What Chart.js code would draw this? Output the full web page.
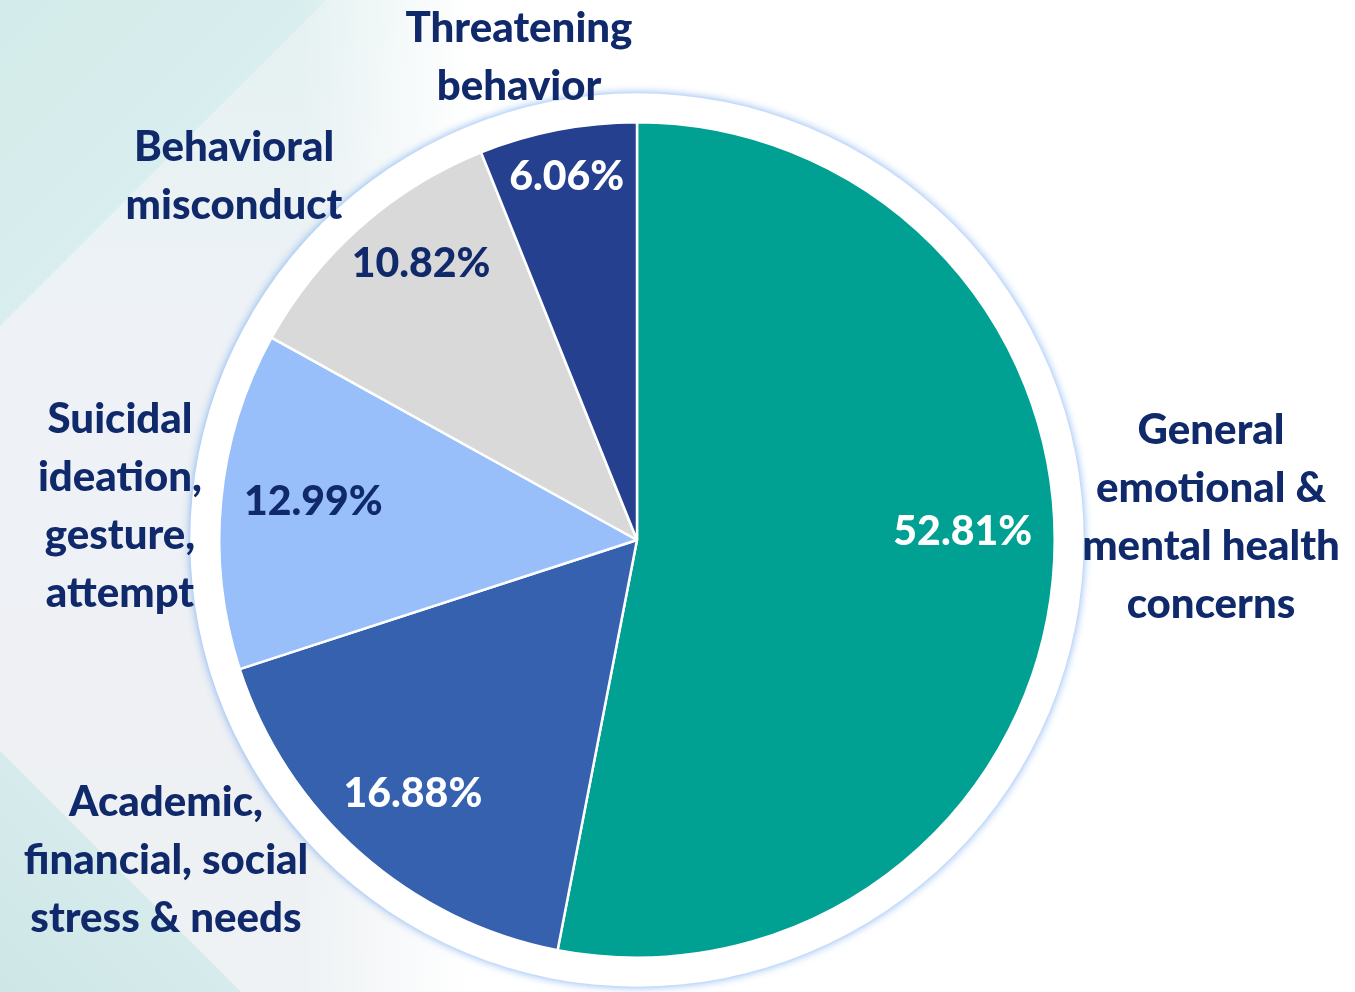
<!DOCTYPE html>
<html lang="en">
<head>
    <meta charset="UTF-8">
    <title>Concern Categories</title>
    <style>
        html, body {
            margin: 0;
            padding: 0;
            width: 1355px;
            height: 992px;
            overflow: hidden;
            font-family: 'Lato', sans-serif;
        }
        .page {
            position: relative;
            width: 1355px;
            height: 992px;
            background: #fff;
        }
        .bg {
            position: absolute;
            left: 0;
            top: 0;
            width: 470px;
            height: 992px;
            background:
                linear-gradient(to right, rgba(255,255,255,0) 0, rgba(255,255,255,0) 300px, #fff 470px),
                linear-gradient(135deg, #d3ebea 0, #d9eeee 230px, rgba(255,255,255,0.0) 231px),
                linear-gradient(45deg, #cfe6e6 0, #d6ecec 170px, rgba(255,255,255,0) 171px),
                linear-gradient(to bottom, #e4f1f1 0, #eef2f6 330px, #eef0f4 700px, #eef2f4 992px);
        }
        canvas {
            position: absolute;
            left: 0;
            top: 0;
        }
    </style>
</head>
<body>
    <div class="page">
        <div class="bg"></div>
        <canvas id="pieChart" width="1355" height="992"></canvas>
    </div>
<script src="https://cdn.jsdelivr.net/npm/chart.js"></script>
<script>
    // chart data
    const categories = [
        ['General', 'emotional &', 'mental health', 'concerns'],
        ['Academic,', 'financial, social', 'stress & needs'],
        ['Suicidal', 'ideation,', 'gesture,', 'attempt'],
        ['Behavioral', 'misconduct'],
        ['Threatening', 'behavior']
    ];
    const shares = [52.81, 16.88, 12.99, 10.82, 6.06];
    const sliceColors = ['#00a093', '#3561ae', '#99bffb', '#d9d9d9', '#25408f'];
    const valueColors = ['#ffffff', '#ffffff', '#10296b', '#10296b', '#ffffff'];

    const navy = '#10296b';

    // where the category names sit, relative to pie centre
    const nameAnchors = [
        [574, -110], [-471, 262], [-517, -121], [-403, -393], [-118, -512]
    ];
    // how far out the percentage sits (fraction of radius) and a small angle nudge (deg)
    const valueRadius = [0.78, 0.81, 0.78, 0.84, 0.885];
    const valueNudge = [-7, 0, 1.2, 3.5, 0];

    // white ring with soft blue edge behind the pie
    const ringPlugin = {
        id: 'ring',
        beforeDatasetsDraw(chart) {
            const arc = chart.getDatasetMeta(0).data[0];
            if (!arc) return;
            const ctx = chart.ctx;
            ctx.save();
            ctx.beginPath();
            ctx.arc(arc.x, arc.y, arc.outerRadius + 29, 0, Math.PI * 2);
            ctx.shadowColor = 'rgba(100, 160, 240, 0.85)';
            ctx.shadowBlur = 8;
            ctx.fillStyle = '#ffffff';
            ctx.fill();
            ctx.restore();
        }
    };

    const labelPlugin = {
        id: 'labels',
        afterDatasetsDraw(chart) {
            const meta = chart.getDatasetMeta(0);
            const ctx = chart.ctx;
            ctx.save();
            ctx.textAlign = 'center';
            ctx.textBaseline = 'middle';
            meta.data.forEach(function (arc, i) {
                // percentage inside the slice
                const mid = (arc.startAngle + arc.endAngle) / 2 + valueNudge[i] * Math.PI / 180;
                const r = arc.outerRadius * valueRadius[i];
                ctx.font = '900 41px Lato';
                ctx.fillStyle = valueColors[i];
                ctx.fillText(shares[i].toFixed(2) + '%', arc.x + Math.cos(mid) * r, arc.y + Math.sin(mid) * r);

                // category name outside
                const lines = categories[i];
                const lh = 58;
                const cx = arc.x + nameAnchors[i][0];
                const top = arc.y + nameAnchors[i][1];
                ctx.font = '900 42px Lato';
                ctx.fillStyle = navy;
                lines.forEach(function (line, k) {
                    ctx.fillText(line, cx, top + k * lh);
                });
            });
            ctx.restore();
        }
    };

    new Chart(document.getElementById('pieChart'), {
        type: 'pie',
        data: {
            labels: categories.map(c => c.join(' ')),
            datasets: [{
                data: shares,
                backgroundColor: sliceColors,
                borderColor: '#ffffff',
                borderWidth: 2.5
            }]
        },
        options: {
            responsive: false,
            animation: false,
            layout: {
                padding: { left: 218, right: 299, top: 121, bottom: 33 }
            },
            plugins: {
                legend: { display: false },
                tooltip: { enabled: false }
            }
        },
        plugins: [ringPlugin, labelPlugin]
    });
</script>
</body>
</html>
